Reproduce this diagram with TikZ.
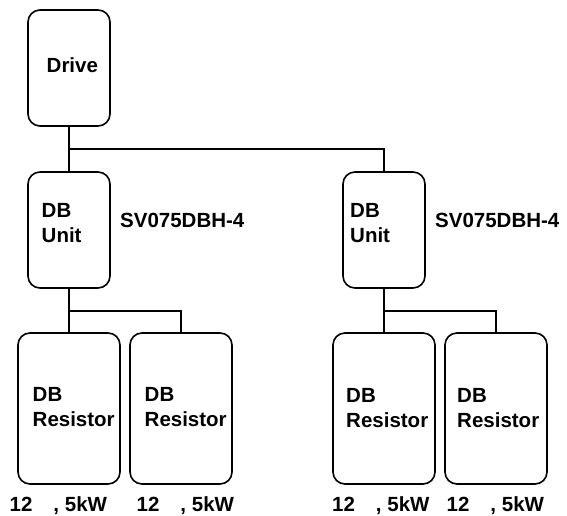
\documentclass[tikz,border=0pt]{standalone}
\usepackage{fontspec}
\setmainfont{Liberation Sans}
\begin{document}
\begin{tikzpicture}[x=1pt,y=-1pt,
  box/.style={draw,line width=1.6pt,rounded corners=12pt,inner sep=0pt},
  smallbox/.style={box,minimum width=82pt,minimum height=116pt},
  resbox/.style={box,minimum width=102pt,minimum height=151pt},
  lbl/.style={anchor=base west,inner sep=0pt,align=left,font=\bfseries\fontsize{20.5}{25}\selectfont},
  wire/.style={line width=1.6pt}]
\useasboundingbox (0,0) rectangle (567,515);
% boxes
\node[smallbox] (drive) at (69,68) {};
\node[smallbox] (unitL) at (69,230) {};
\node[smallbox] (unitR) at (384,230) {};
\node[resbox] (resL1) at (69,408.5) {};
\node[resbox] (resL2) at (181,408.5) {};
\node[resbox] (resR1) at (384,408.5) {};
\node[resbox] (resR2) at (496,408.5) {};
% texts
\node[lbl] (tdrive) at (46.5,72.5) {Drive};
\node[lbl] (tunitL) at (41.5,242) {DB\\Unit};
\node[lbl] (tunitR) at (350,242) {DB\\Unit};
\node[lbl] (svL) at (120,227.5) {SV075DBH-4};
\node[lbl] (svR) at (435,227.5) {SV075DBH-4};
\node[lbl] (tresL1) at (32.5,426.5) {DB\\Resistor};
\node[lbl] (tresL2) at (144.5,426.5) {DB\\Resistor};
\node[lbl] (tresR1) at (346,427) {DB\\Resistor};
\node[lbl] (tresR2) at (457,427) {DB\\Resistor};
\node[lbl] (vL1) at (9.5,511) {12\hspace{21pt}, 5kW};
\node[lbl] (vL2) at (136.5,511) {12\hspace{21pt}, 5kW};
\node[lbl] (vR1) at (332,511) {12\hspace{21pt}, 5kW};
\node[lbl] (vR2) at (446.5,511) {12\hspace{21pt}, 5kW};
% connectors
\coordinate (bus) at (69,149);
\coordinate (brL) at (69,311);
\coordinate (brR) at (384,311);
\draw[wire] (drive.south) -- (unitL.north);
\draw[wire] (bus) -| (unitR.north);
\draw[wire] (unitL.south) -- (resL1.north);
\draw[wire] (brL) -| (resL2.north);
\draw[wire] (unitR.south) -- (resR1.north);
\draw[wire] (brR) -| (resR2.north);
\end{tikzpicture}
\end{document}
